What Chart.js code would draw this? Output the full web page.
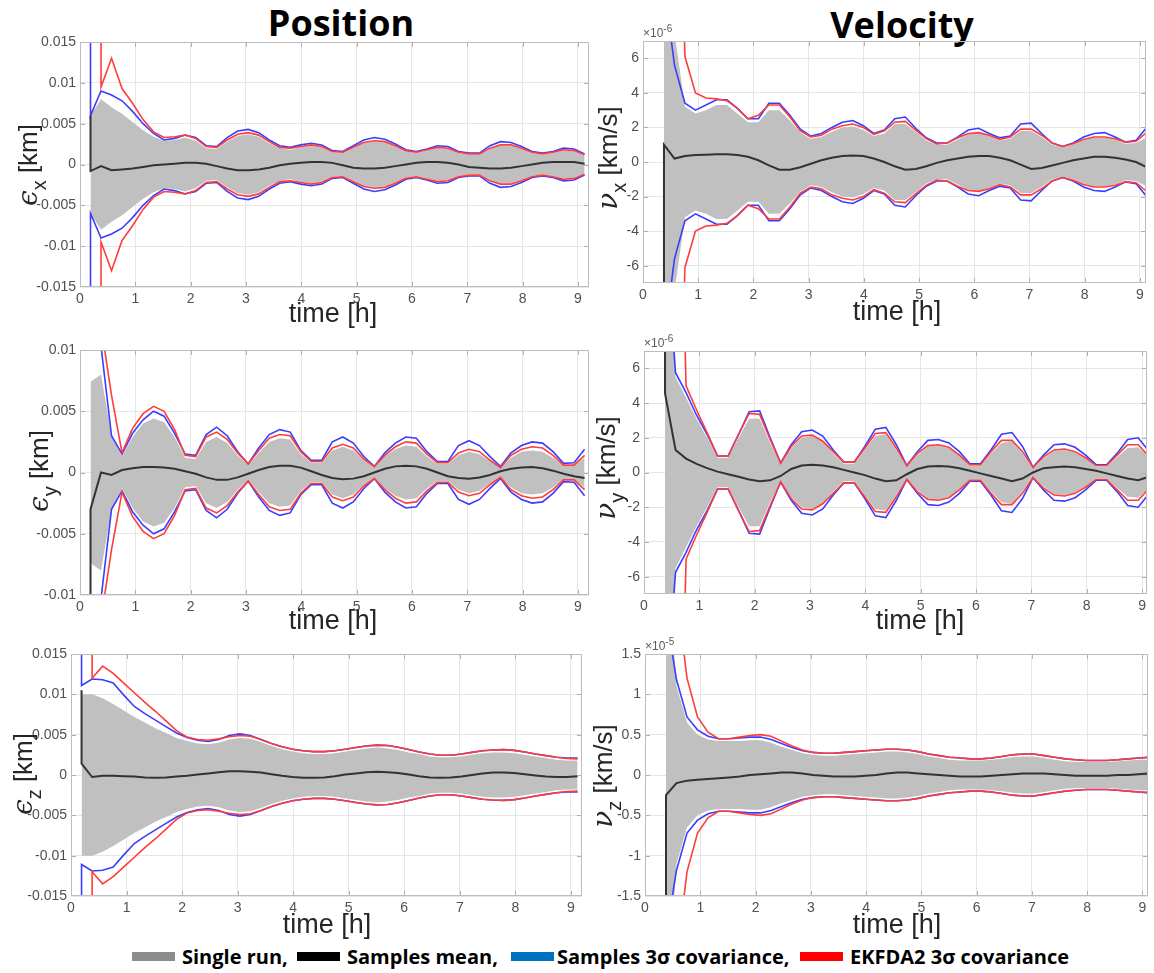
<!DOCTYPE html>
<html><head><meta charset="utf-8">
<script src="https://cdn.jsdelivr.net/npm/chart.js@4.4.1/dist/chart.umd.min.js"></script>
<style>
html,body{margin:0;padding:0;background:#fff}
body{width:1154px;height:973px;position:relative;overflow:hidden}
canvas{position:absolute}
.ttl{position:absolute;font-family:"Open Sans",sans-serif;font-weight:700;font-size:36px;line-height:1;color:#000;white-space:nowrap;transform:translateX(-50%)}
.lg{position:absolute;font-family:"Open Sans",sans-serif;font-weight:700;font-size:20px;line-height:1;color:#000;white-space:nowrap}
.sw{position:absolute;height:9px}
</style></head><body>
<div class="ttl" style="left:341px;top:5px">Position</div>
<div class="ttl" style="left:902px;top:7px">Velocity</div>
<script>
// ---------------- data ----------------
const time = [0.19,0.38,0.57,0.76,0.95,1.14,1.33,1.52,1.71,1.90,2.09,2.28,2.47,2.66,2.85,3.04,3.23,3.42,3.61,3.80,3.99,4.18,4.37,4.56,4.75,4.94,5.13,5.32,5.51,5.70,5.89,6.08,6.27,6.46,6.65,6.84,7.03,7.22,7.41,7.60,7.79,7.98,8.17,8.36,8.55,8.74,8.93,9.12];
const xTicks = [0,1,2,3,4,5,6,7,8,9];
const xTickLabels = ['0','1','2','3','4','5','6','7','8','9'];
const xTitle = 'time [h]';
const posTicks15 = [-15,-10,-5,0,5,10,15];
const posLabels15 = ['-0.015','-0.01','-0.005','0','0.005','0.01','0.015'];
const posTicks10 = [-10,-5,0,5,10];
const posLabels10 = ['-0.01','-0.005','0','0.005','0.01'];
const velTicks = [-6,-4,-2,0,2,4,6];
const velLabels = ['-6','-4','-2','0','2','4','6'];
const vzTicks = [-1.5,-1,-0.5,0,0.5,1,1.5];
const vzLabels = ['-1.5','-1','-0.5','0','0.5','1','1.5'];
const legendNames = ['Single run,','Samples mean,','Samples 3σ covariance,','EKFDA2 3σ covariance'];
const legendColors = ['#8c8c8c','#000000','#0070c0','#ff0000'];

// position x (x1e-3 km)
const exGray = [6.0,8.0,7.0,6.2,5.2,4.2,3.4,2.9,3.0,3.3,2.9,2.0,1.9,2.8,3.5,3.7,3.4,2.6,2.0,1.8,2.1,2.3,2.1,1.5,1.4,2.0,2.6,2.8,2.7,2.2,1.6,1.4,1.7,2.0,1.9,1.4,1.2,1.2,1.9,2.3,2.3,1.9,1.4,1.2,1.4,1.7,1.6,1.1];
const exBlue = [6.0,9.0,8.5,7.8,6.5,5.0,3.8,3.0,3.2,3.6,3.3,2.3,2.2,3.3,4.1,4.3,3.9,3.0,2.3,2.1,2.4,2.6,2.4,1.7,1.6,2.3,3.0,3.3,3.1,2.5,1.8,1.6,1.9,2.3,2.2,1.6,1.4,1.4,2.3,2.8,2.7,2.2,1.6,1.4,1.6,2.0,1.9,1.3];
const exRed = [null,9.5,13.0,9.3,7.5,5.5,4.0,3.3,3.4,3.6,3.2,2.2,2.1,3.0,3.7,3.9,3.6,2.8,2.1,2.0,2.2,2.4,2.2,1.6,1.5,2.1,2.7,2.9,2.8,2.3,1.7,1.5,1.8,2.1,2.0,1.5,1.3,1.3,2.0,2.4,2.4,2.0,1.5,1.3,1.5,1.8,1.7,1.2];
const exMean = [-0.8,-0.2,-0.7,-0.6,-0.5,-0.3,-0.1,0.0,0.1,0.2,0.2,0.1,-0.2,-0.5,-0.7,-0.7,-0.6,-0.4,-0.1,0.1,0.2,0.3,0.3,0.2,-0.1,-0.4,-0.5,-0.5,-0.4,-0.2,0.0,0.2,0.3,0.3,0.2,0.0,-0.3,-0.4,-0.5,-0.5,-0.4,-0.2,0.0,0.2,0.3,0.3,0.3,0.1];
const exSpikes = {blue:60, red:60, mean:6.0};

// velocity x (x1e-6 km/s)
const vxGray = [null,40,7.5,3.2,2.8,3.0,3.3,3.3,2.8,2.3,2.3,3.0,3.0,2.4,1.7,1.35,1.45,1.75,2.0,2.05,1.85,1.5,1.65,2.2,2.2,1.75,1.25,1.0,1.0,1.3,1.6,1.7,1.5,1.25,1.35,1.8,1.8,1.45,1.0,0.85,1.0,1.25,1.4,1.4,1.3,1.05,1.1,1.4];
const vxBlue = [null,10.3,5.6,3.4,3.0,3.3,3.6,3.6,3.1,2.5,2.5,3.4,3.4,2.7,1.9,1.5,1.65,2.0,2.3,2.4,2.1,1.65,1.85,2.5,2.6,1.95,1.4,1.1,1.1,1.45,1.85,1.95,1.65,1.4,1.5,2.2,2.25,1.65,1.1,0.9,1.1,1.45,1.65,1.7,1.45,1.15,1.25,2.0];
const vxRed = [null,null,25,6.1,4.0,3.7,3.65,3.55,3.1,2.5,2.7,3.3,3.3,2.6,1.8,1.45,1.55,1.9,2.1,2.2,2.0,1.6,1.8,2.3,2.35,1.85,1.35,1.05,1.1,1.4,1.65,1.7,1.55,1.3,1.45,1.9,1.9,1.55,1.1,0.9,1.05,1.3,1.45,1.45,1.35,1.15,1.2,1.7];
const vxMean = [null,1.0,0.2,0.35,0.4,0.42,0.45,0.45,0.4,0.3,0.1,-0.2,-0.45,-0.45,-0.3,-0.1,0.1,0.25,0.35,0.38,0.35,0.2,0.0,-0.25,-0.45,-0.4,-0.25,-0.05,0.1,0.2,0.3,0.35,0.35,0.25,0.1,-0.15,-0.4,-0.35,-0.2,-0.05,0.1,0.2,0.3,0.3,0.25,0.15,0.0,-0.3];
const vxSpikes = {blue:null, red:null, mean:-60};

// position y (x1e-3 km)
const eyGray = [7.4,8.0,3.0,1.3,2.9,4.0,4.4,4.1,2.9,1.2,1.1,2.5,2.9,2.4,1.4,0.6,1.6,2.5,2.8,2.7,1.5,0.8,0.8,1.8,2.1,1.8,1.0,0.45,1.3,1.9,2.2,2.1,1.3,0.7,0.7,1.4,1.7,1.5,0.9,0.4,1.2,1.7,1.8,1.7,1.2,0.6,0.6,1.2];
const eyBlue = [null,10.3,3.0,1.5,3.2,4.3,5.0,4.6,3.2,1.5,1.4,3.1,3.7,3.0,1.7,0.7,2.0,3.1,3.5,3.3,1.8,1.0,1.0,2.5,2.9,2.4,1.3,0.5,1.6,2.4,2.9,2.8,1.7,0.9,0.9,2.2,2.6,2.2,1.3,0.5,1.6,2.2,2.5,2.4,1.7,0.75,0.8,1.9];
const eyRed = [null,12,6.3,1.6,3.6,4.8,5.4,5.0,3.5,1.4,1.3,2.9,3.3,2.7,1.6,0.7,1.8,2.8,3.1,3.0,1.7,0.9,0.9,2.0,2.3,2.0,1.1,0.5,1.4,2.1,2.5,2.4,1.5,0.8,0.8,1.6,1.9,1.7,1.0,0.4,1.4,1.9,2.1,2.0,1.4,0.6,0.6,1.4];
const eyMean = [-3.0,0.0,-0.2,0.2,0.35,0.45,0.45,0.4,0.3,0.1,-0.1,-0.4,-0.6,-0.6,-0.4,-0.1,0.2,0.45,0.55,0.55,0.4,0.1,-0.2,-0.45,-0.55,-0.5,-0.3,0.0,0.3,0.5,0.55,0.5,0.3,0.0,-0.3,-0.45,-0.5,-0.4,-0.2,0.1,0.3,0.4,0.45,0.35,0.15,-0.1,-0.3,-0.45];
const eySpikes = {blue:null, red:null, mean:-60};

// velocity y (x1e-6 km/s)
const vyGray = [null,50,5.5,4.3,3.1,2.0,0.85,0.85,2.0,3.1,3.1,1.7,0.5,1.4,2.0,2.1,1.8,1.1,0.5,0.5,1.3,2.1,2.2,1.3,0.35,1.0,1.5,1.55,1.4,1.0,0.4,0.4,1.1,1.7,1.8,1.1,0.25,0.8,1.25,1.3,1.15,0.8,0.35,0.35,0.9,1.4,1.45,0.9];
const vyBlue = [null,13.6,5.75,4.6,3.3,2.2,0.95,0.95,2.2,3.5,3.55,2.0,0.55,1.6,2.35,2.45,2.1,1.3,0.6,0.6,1.5,2.5,2.6,1.6,0.4,1.2,1.85,1.9,1.7,1.2,0.5,0.5,1.3,2.2,2.3,1.5,0.3,1.0,1.6,1.65,1.45,1.0,0.45,0.45,1.1,1.9,2.0,1.25];
const vyRed = [null,null,30,5.0,3.6,2.3,0.95,0.95,2.2,3.4,3.35,1.9,0.55,1.5,2.1,2.15,1.8,1.2,0.6,0.6,1.4,2.25,2.3,1.4,0.4,1.1,1.55,1.6,1.45,1.0,0.45,0.45,1.2,1.85,1.85,1.2,0.3,0.9,1.3,1.35,1.2,0.85,0.4,0.4,1.0,1.6,1.6,0.95];
const vyMean = [null,4.55,1.3,0.8,0.5,0.25,0.05,-0.1,-0.25,-0.4,-0.5,-0.45,-0.2,0.2,0.4,0.45,0.4,0.3,0.15,0.0,-0.15,-0.35,-0.5,-0.45,-0.1,0.2,0.35,0.38,0.35,0.25,0.1,-0.05,-0.2,-0.35,-0.5,-0.35,0.0,0.25,0.3,0.35,0.3,0.2,0.1,-0.05,-0.2,-0.35,-0.45,-0.25];
const vySpikes = {blue:null, red:null, mean:60};

// position z (x1e-3 km)
const ezGray = [10.0,10.0,9.5,8.8,8.0,7.2,6.5,5.8,5.2,4.6,4.2,3.9,3.8,4.0,4.4,4.6,4.5,4.1,3.6,3.2,2.9,2.7,2.6,2.6,2.7,2.9,3.1,3.3,3.4,3.3,3.1,2.8,2.6,2.3,2.2,2.2,2.3,2.5,2.7,2.8,2.8,2.7,2.5,2.3,2.1,1.9,1.8,1.8];
const ezBlue = [11.1,11.9,11.8,11.4,9.9,8.5,7.6,6.8,6.0,5.2,4.65,4.3,4.15,4.4,4.9,5.1,4.9,4.4,3.9,3.5,3.2,3.0,2.9,2.9,3.0,3.2,3.4,3.6,3.7,3.65,3.45,3.15,2.85,2.6,2.45,2.45,2.6,2.8,3.0,3.1,3.15,3.05,2.85,2.6,2.4,2.2,2.1,2.1];
const ezRed = [null,12.0,13.5,12.6,11.4,10.2,9.0,7.9,6.7,5.5,4.7,4.4,4.3,4.5,4.75,4.9,4.8,4.4,3.9,3.5,3.2,3.0,2.9,2.9,3.0,3.2,3.4,3.6,3.7,3.65,3.45,3.15,2.85,2.6,2.45,2.45,2.6,2.8,3.0,3.1,3.15,3.05,2.85,2.6,2.4,2.2,2.05,2.0];
const ezMean = [1.4,-0.25,-0.1,-0.1,-0.15,-0.2,-0.3,-0.35,-0.3,-0.2,-0.1,0.05,0.2,0.35,0.45,0.45,0.4,0.3,0.1,-0.1,-0.25,-0.35,-0.35,-0.3,-0.15,0.05,0.2,0.35,0.4,0.35,0.25,0.05,-0.15,-0.3,-0.35,-0.3,-0.2,0.0,0.2,0.3,0.3,0.25,0.1,-0.05,-0.2,-0.25,-0.25,-0.15];
const ezSpikes = {blue:60, red:60, mean:10.5};

// velocity z (x1e-5 km/s)
const vzGray = [null,3.0,1.1,0.65,0.5,0.44,0.42,0.42,0.42,0.43,0.43,0.4,0.35,0.31,0.27,0.25,0.24,0.24,0.25,0.26,0.27,0.28,0.29,0.29,0.28,0.26,0.23,0.21,0.19,0.18,0.18,0.18,0.19,0.2,0.22,0.23,0.23,0.21,0.19,0.17,0.16,0.16,0.16,0.16,0.17,0.18,0.19,0.19];
const vzBlue = [null,2.0,1.18,0.72,0.56,0.48,0.45,0.45,0.46,0.47,0.47,0.44,0.39,0.34,0.30,0.28,0.27,0.27,0.28,0.29,0.30,0.31,0.32,0.32,0.31,0.29,0.26,0.24,0.22,0.21,0.20,0.20,0.21,0.23,0.25,0.26,0.26,0.24,0.22,0.20,0.19,0.18,0.18,0.18,0.19,0.20,0.21,0.22];
const vzRed = [null,null,2.27,1.2,0.72,0.53,0.45,0.45,0.47,0.49,0.50,0.48,0.42,0.36,0.31,0.28,0.27,0.27,0.28,0.29,0.30,0.31,0.32,0.32,0.31,0.29,0.26,0.24,0.22,0.21,0.20,0.20,0.21,0.23,0.25,0.26,0.26,0.24,0.22,0.20,0.19,0.18,0.18,0.18,0.19,0.20,0.21,0.22];
const vzMean = [null,-0.25,-0.1,-0.07,-0.06,-0.05,-0.04,-0.03,-0.02,0.0,0.01,0.02,0.03,0.03,0.02,0.0,-0.01,-0.02,-0.02,-0.02,-0.01,0.0,0.02,0.03,0.03,0.02,0.01,0.0,-0.01,-0.02,-0.02,-0.02,-0.01,0.0,0.01,0.02,0.02,0.02,0.01,0.0,-0.01,-0.01,-0.01,-0.01,0.0,0.0,0.01,0.02];
const vzSpikes = {blue:null, red:null, mean:-3.0};

// ---------------- layout (page pixel boxes of each plot area) ----------------
const panels = [
 {L:80, T:42, R:589, B:287, xMax:9.2, yMin:-15, yMax:15, yTicks:posTicks15, yLabels:posLabels15,
  gray:exGray, blue:exBlue, red:exRed, mean:exMean, spikes:exSpikes,
  sym:'ϵ', sub:'x', unit:'[km]', labX:37, labY:165, tx:333, ty:315, exp:null},
 {L:643, T:41, R:1146, B:283, xMax:9.11, yMin:-7, yMax:7, yTicks:velTicks, yLabels:velLabels,
  gray:vxGray, blue:vxBlue, red:vxRed, mean:vxMean, spikes:vxSpikes,
  sym:'ν', sub:'x', unit:'[km/s]', labX:617, labY:158, tx:897, ty:313, exp:'-6'},
 {L:80, T:350, R:589, B:595, xMax:9.2, yMin:-10, yMax:10, yTicks:posTicks10, yLabels:posLabels10,
  gray:eyGray, blue:eyBlue, red:eyRed, mean:eyMean, spikes:eySpikes,
  sym:'ϵ', sub:'y', unit:'[km]', labX:48, labY:471, tx:333, ty:622, exp:null},
 {L:644, T:351, R:1147, B:594, xMax:9.09, yMin:-7, yMax:7, yTicks:velTicks, yLabels:velLabels,
  gray:vyGray, blue:vyBlue, red:vyRed, mean:vyMean, spikes:vySpikes,
  sym:'ν', sub:'y', unit:'[km/s]', labX:615, labY:468, tx:920, ty:622, exp:'-6'},
 {L:71, T:654, R:582, B:896, xMax:9.2, yMin:-15, yMax:15, yTicks:posTicks15, yLabels:posLabels15,
  gray:ezGray, blue:ezBlue, red:ezRed, mean:ezMean, spikes:ezSpikes,
  sym:'ϵ', sub:'z', unit:'[km]', labX:32, labY:774, tx:327, ty:926, exp:null},
 {L:645, T:654, R:1148, B:896, xMax:9.1, yMin:-1.5, yMax:1.5, yTicks:vzTicks, yLabels:vzLabels,
  gray:vzGray, blue:vzBlue, red:vzRed, mean:vzMean, spikes:vzSpikes,
  sym:'ν', sub:'z', unit:'[km/s]', labX:612, labY:776, tx:897, ty:926, exp:'-5'}
];
const legendLayout = [ {sw:132, tx:182}, {sw:297, tx:347}, {sw:511, tx:557}, {sw:800, tx:850} ];

// ---------------- legend (HTML) ----------------
legendNames.forEach((n,i)=>{
  const s=document.createElement('div'); s.className='sw';
  s.style.left=legendLayout[i].sw+'px'; s.style.top='952px'; s.style.width='43px'; s.style.background=legendColors[i];
  document.body.appendChild(s);
  const t=document.createElement('div'); t.className='lg'; t.textContent=n;
  t.style.left=legendLayout[i].tx+'px'; t.style.top='947px';
  document.body.appendChild(t);
});

// ---------------- charts ----------------
Chart.defaults.font.family = '"Liberation Sans", Arial, sans-serif';
const PADL=75, PADT=25, PADR=6, PADB=50;

function pts(vals, sign, spike){
  const out=[];
  vals.forEach((v,i)=>{
    if(v===null) return;
    if(out.length===0 && spike!==null && spike!==undefined) out.push({x:time[i], y:sign*spike});
    out.push({x:time[i], y:sign*v});
  });
  return out;
}

function deco(p, cvL, cvT){
  return {id:'deco', afterDraw(chart){
    const ctx=chart.ctx, a=chart.chartArea, xs=chart.scales.x, ys=chart.scales.y;
    ctx.save();
    ctx.strokeStyle='#b0b0b0'; ctx.lineWidth=1; ctx.beginPath();
    xTicks.forEach(v=>{const px=Math.round(xs.getPixelForValue(v))+0.5; if(px<a.left+2||px>a.right-2)return;
      ctx.moveTo(px,a.bottom); ctx.lineTo(px,a.bottom-5); ctx.moveTo(px,a.top); ctx.lineTo(px,a.top+5);});
    p.yTicks.forEach(v=>{const py=Math.round(ys.getPixelForValue(v))+0.5; if(py<a.top+2||py>a.bottom-2)return;
      ctx.moveTo(a.left,py); ctx.lineTo(a.left+5,py); ctx.moveTo(a.right,py); ctx.lineTo(a.right-5,py);});
    ctx.stroke();
    ctx.strokeStyle='#bdbdbd';
    ctx.strokeRect(Math.round(a.left)+0.5, Math.round(a.top)+0.5, Math.round(a.right-a.left)-1, Math.round(a.bottom-a.top)-1);
    // x title
    ctx.fillStyle='#262626'; ctx.font='27px "Liberation Sans", Arial'; ctx.textAlign='center'; ctx.textBaseline='middle';
    ctx.fillText(xTitle, p.tx-cvL, p.ty-cvT);
    // y label (rotated, with subscript)
    ctx.save();
    ctx.translate(p.labX-cvL, p.labY-cvT); ctx.rotate(-Math.PI/2);
    const parts=[{t:p.sym,f:'italic 28px "DejaVu Serif", serif',dy:0},{t:p.sub,f:'20px "Liberation Sans", Arial',dy:9},{t:' '+p.unit,f:'26px "Liberation Sans", Arial',dy:0}];
    let tot=0; parts.forEach(q=>{ctx.font=q.f; q.w=ctx.measureText(q.t).width; tot+=q.w;});
    let x=-tot/2; ctx.textAlign='left'; ctx.textBaseline='alphabetic'; ctx.fillStyle='#262626';
    parts.forEach(q=>{ctx.font=q.f; ctx.fillText(q.t,x,q.dy); x+=q.w;});
    ctx.restore();
    // exponent
    if(p.exp){
      ctx.textAlign='left'; ctx.textBaseline='alphabetic'; ctx.fillStyle='#5a5a5a';
      ctx.font='12px "Liberation Sans", Arial'; ctx.fillText('×10', a.left, a.top-4);
      const w=ctx.measureText('×10').width;
      ctx.font='10px "Liberation Sans", Arial'; ctx.fillText(p.exp, a.left+w, a.top-9);
    }
    ctx.restore();
  }};
}

panels.forEach(p=>{
  const cvL=p.L-PADL, cvT=p.T-PADT, W=p.R-p.L+PADL+PADR, H=p.B-p.T+PADT+PADB;
  const cv=document.createElement('canvas');
  cv.width=W; cv.height=H; cv.style.left=cvL+'px'; cv.style.top=cvT+'px'; cv.style.width=W+'px'; cv.style.height=H+'px';
  document.body.appendChild(cv);
  const sp=p.spikes;
  const line=(data,color,width,order)=>({data, borderColor:color, borderWidth:width, fill:false, order, clip:0, pointRadius:0, tension:0});
  const datasets=[
    {data:pts(p.gray,1,null), fill:'+1', backgroundColor:'#c0c0c0', borderColor:'rgba(0,0,0,0)', borderWidth:0, order:10, clip:0, pointRadius:0},
    {data:pts(p.gray,-1,null), fill:false, borderColor:'rgba(0,0,0,0)', borderWidth:0, order:10, clip:0, pointRadius:0},
    line(pts(p.blue,1,sp.blue),'#3c3cff',1.6,5),
    line(pts(p.blue,-1,sp.blue),'#3c3cff',1.6,5),
    line(pts(p.red,1,sp.red),'#ff3c3c',1.6,4),
    line(pts(p.red,-1,sp.red),'#ff3c3c',1.6,4),
    line(pts(p.mean,1,sp.mean),'#333333',2,1)
  ];
  new Chart(cv,{
    type:'line',
    data:{datasets},
    options:{
      responsive:false, animation:false, devicePixelRatio:1,
      layout:{padding:{left:0, top:PADT, right:PADR, bottom:0}},
      plugins:{legend:{display:false}, tooltip:{enabled:false}},
      elements:{point:{radius:0}, line:{tension:0}},
      scales:{
        x:{type:'linear', min:0, max:p.xMax,
          afterBuildTicks:s=>{s.ticks=xTicks.map(v=>({value:v}));},
          afterFit:s=>{s.height=PADB;},
          grid:{color:'#e6e6e6', drawTicks:false}, border:{display:false},
          ticks:{autoSkip:false, maxRotation:0, padding:4, color:'#505050', font:{size:14}, callback:v=>xTickLabels[xTicks.indexOf(v)]}},
        y:{type:'linear', min:p.yMin, max:p.yMax,
          afterBuildTicks:s=>{s.ticks=p.yTicks.map(v=>({value:v}));},
          afterFit:s=>{s.width=PADL;},
          grid:{color:'#e6e6e6', drawTicks:false}, border:{display:false},
          ticks:{autoSkip:false, padding:4, color:'#505050', font:{size:14}, callback:v=>p.yLabels[p.yTicks.indexOf(v)]}}
      }
    },
    plugins:[deco(p,cvL,cvT)]
  });
});
</script>
</body></html>
